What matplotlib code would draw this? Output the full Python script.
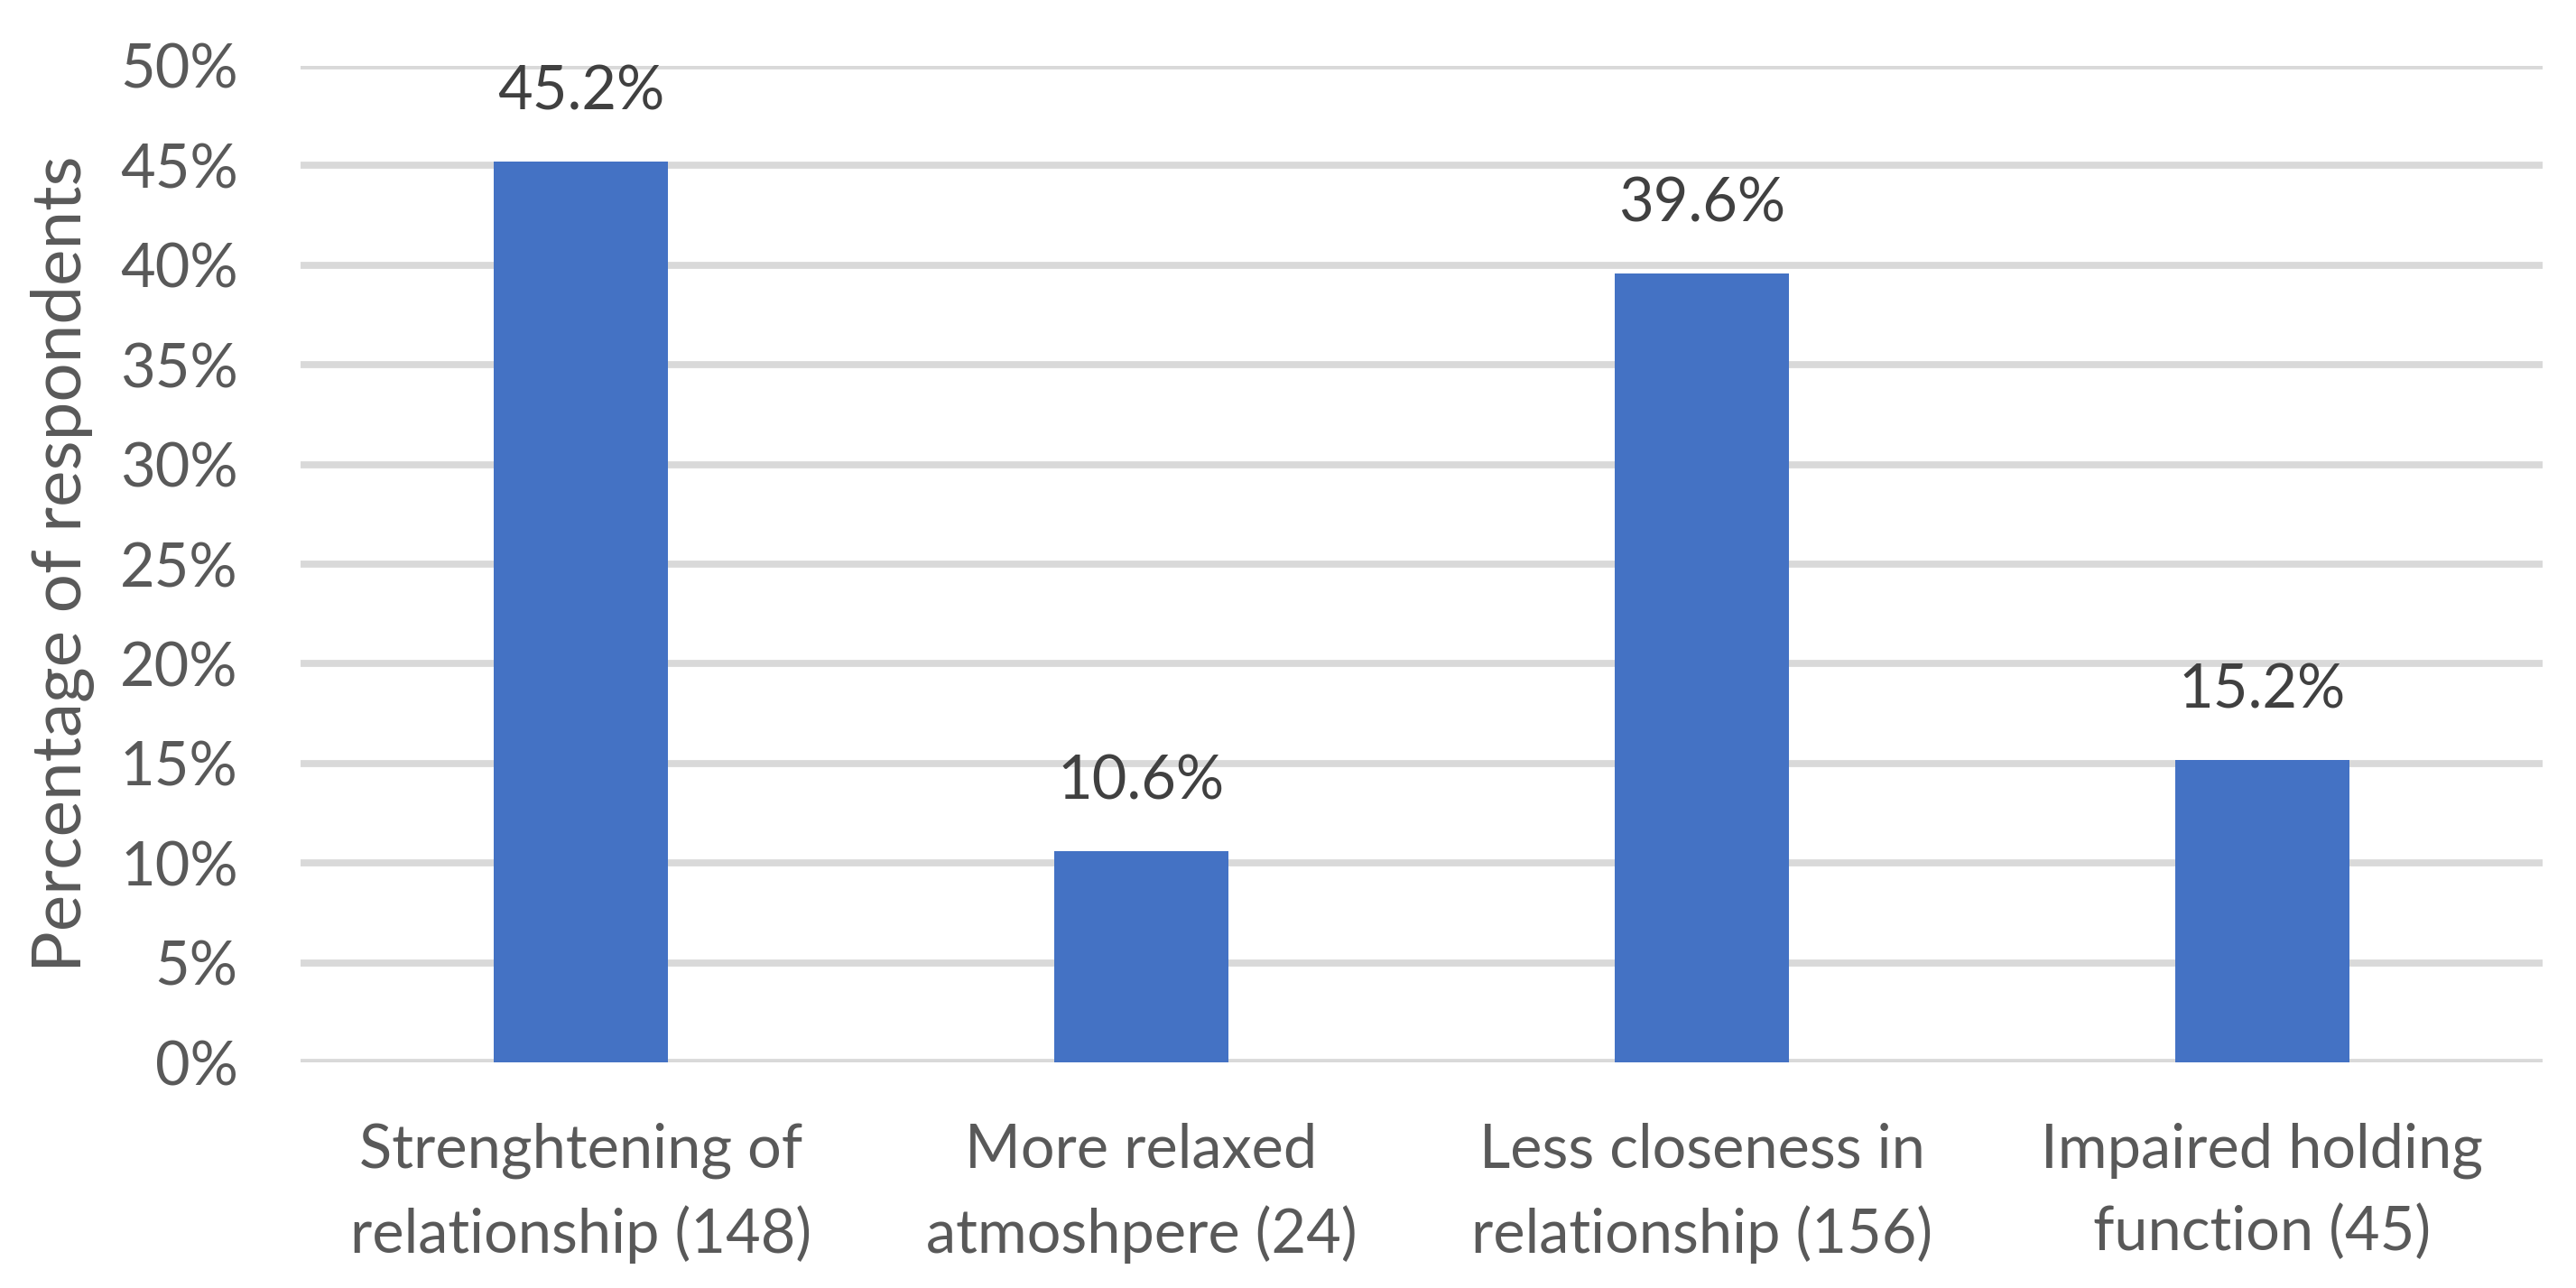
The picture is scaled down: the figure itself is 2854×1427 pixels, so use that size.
import matplotlib.pyplot as plt
from matplotlib.ticker import MultipleLocator, FuncFormatter

# data
categories = ["Strenghtening of\nrelationship (148)", "More relaxed\natmoshpere (24)",
              "Less closeness in\nrelationship (156)", "Impaired holding\nfunction (45)"]
values = [45.2, 10.6, 39.6, 15.2]
value_labels = ["45.2%", "10.6%", "39.6%", "15.2%"]

plt.rcParams['font.family'] = ['Lato', 'DejaVu Sans']

fig = plt.figure(figsize=(14.27, 7.135), dpi=200)
ax = fig.add_axes([0.1167, 0.175, 0.8703, 0.774])

x = range(len(categories))
bars = ax.bar(x, values, width=0.31, color='#4472C4', zorder=3)

for i, v in enumerate(values):
    ax.text(i, v + 2.6, value_labels[i], ha='center', va='baseline',
            fontsize=24, color='#404040')

ax.set_xlim(-0.5, len(categories) - 0.5)
ax.set_ylim(0, 50)
ax.yaxis.set_major_locator(MultipleLocator(5))
ax.yaxis.set_major_formatter(FuncFormatter(lambda v, p: f"{v:.0f}%"))
ax.grid(axis='y', color='#D9D9D9', linewidth=2.8, zorder=0)
ax.set_xticks(list(x))
ax.set_xticklabels(categories, fontsize=24, color='#595959', linespacing=1.55)
ax.tick_params(axis='y', labelsize=24, labelcolor='#595959', length=0, pad=25)
ax.tick_params(axis='x', length=0, pad=24)
for s in ax.spines.values():
    s.set_visible(False)

ax.set_ylabel("Percentage of respondents", fontsize=27.5, color='#595959', labelpad=10)

fig.savefig("out.png", dpi=200)
